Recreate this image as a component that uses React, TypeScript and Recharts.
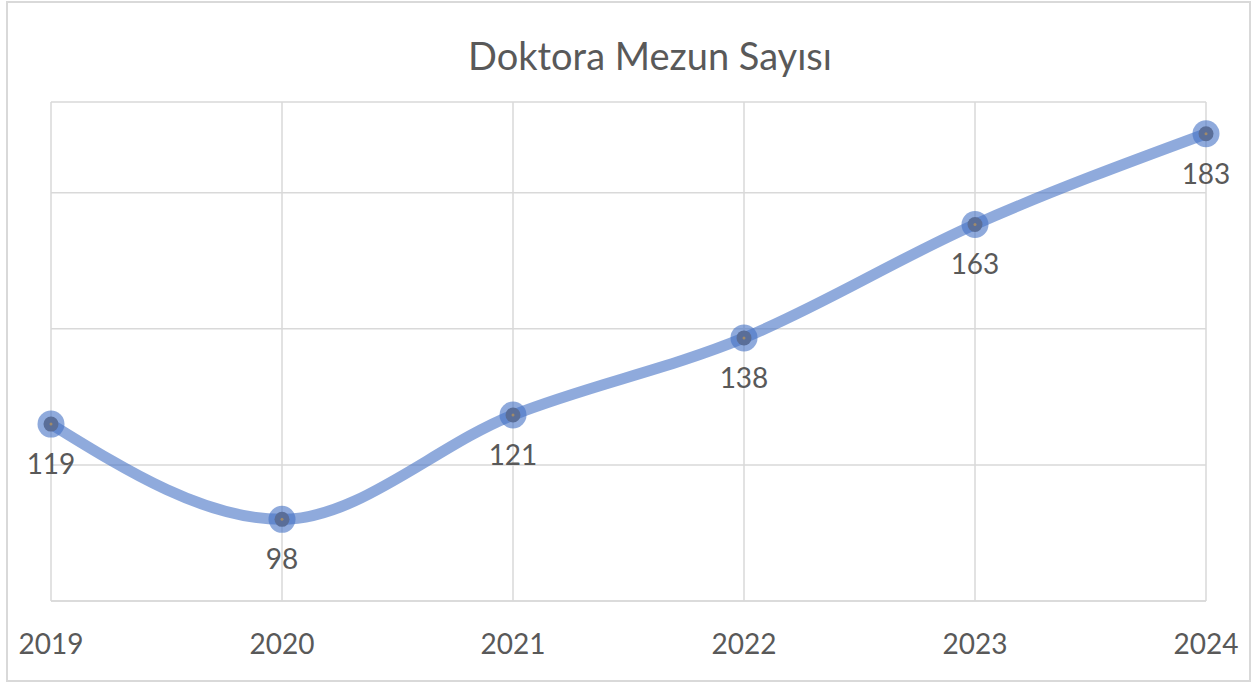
import { LineChart, Line, XAxis, YAxis, CartesianGrid, LabelList } from 'recharts';

const years = ['2019', '2020', '2021', '2022', '2023', '2024'];
const graduates = [119, 98, 121, 138, 163, 183];
const yTicks = [80, 110, 140, 170];

const data = years.map((year, i) => ({ year, value: graduates[i] }));

const FONT = 'Lato, "Noto Sans", sans-serif';
const TEXT = '#595959';
const GRID = '#d9d9d9';

// Excel style marker: translucent blue ring, darker core
const Marker = (props: any) => {
  const { cx, cy } = props;
  if (cx == null || cy == null) return null;
  return (
    <g>
      <circle cx={cx} cy={cy} r={13.5} fill="#4472C4" fillOpacity={0.6} />
      <circle cx={cx} cy={cy} r={7.5} fill="#5a6e98" />
      <circle cx={cx} cy={cy} r={1.5} fill="#a08a6a" />
    </g>
  );
};

const YearTick = (props: any) => {
  const { x, y, payload } = props;
  return (
    <text x={x} y={y + 45} textAnchor="middle" fill={TEXT} fontSize={28} fontFamily={FONT}>
      {payload.value}
    </text>
  );
};

export default function App() {
  return (
    <div style={{ position: 'absolute', left: 0, top: 0, width: 1258, height: 682, background: '#fff' }}>
      {/* chart frame */}
      <div
        style={{
          position: 'absolute',
          left: 6,
          top: 1,
          width: 1245,
          height: 681,
          border: `2px solid ${GRID}`,
          boxSizing: 'border-box',
        }}
      />
      <div
        style={{
          position: 'absolute',
          left: 450,
          top: 36,
          width: 400,
          textAlign: 'center',
          fontFamily: FONT,
          fontSize: 38,
          lineHeight: '38px',
          color: TEXT,
        }}
      >
        Doktora Mezun Sayısı
      </div>
      <div style={{ position: 'absolute', left: 0, top: 0 }}>
        <LineChart
          width={1258}
          height={682}
          data={data}
          margin={{ top: 102, right: 52, bottom: 51, left: 51 }}
        >
          <CartesianGrid stroke={GRID} strokeWidth={1.5} />
          <XAxis
            dataKey="year"
            height={30}
            axisLine={{ stroke: GRID, strokeWidth: 1.5 }}
            tickLine={false}
            tick={<YearTick />}
            interval={0}
          />
          <YAxis hide domain={[80, 190]} ticks={yTicks} />
          <Line
            type="monotone"
            dataKey="value"
            stroke="#4472C4"
            strokeOpacity={0.6}
            strokeWidth={11}
            strokeLinecap="round"
            dot={<Marker />}
            activeDot={false}
            isAnimationActive={false}
          >
            <LabelList
              dataKey="value"
              position="bottom"
              offset={30}
              fill={TEXT}
              fontSize={28}
              fontFamily={FONT}
            />
          </Line>
        </LineChart>
      </div>
    </div>
  );
}
